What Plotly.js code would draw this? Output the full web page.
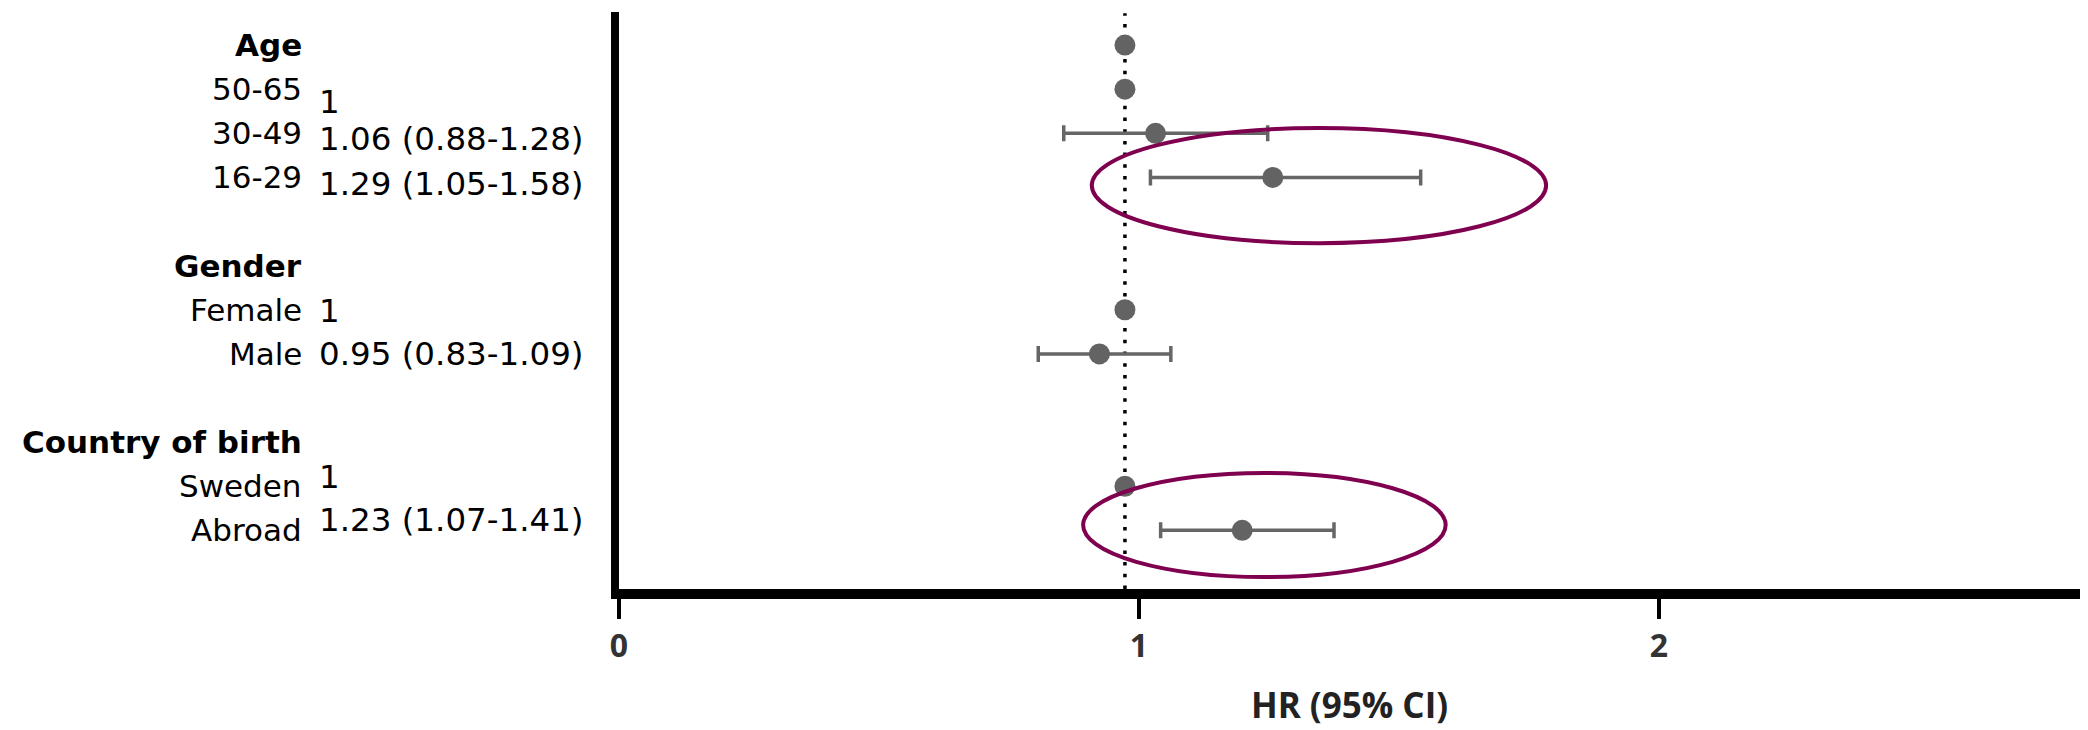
<!DOCTYPE html>
<html>
<head>
<meta charset="utf-8">
<script src="https://cdn.plot.ly/plotly-3.0.1.min.js"></script>
<style>html,body{margin:0;padding:0;background:#fff;}#chart{width:2088px;height:730px;}</style>
</head>
<body>
<div id="chart"></div>
<script>
// ---- data ----
const rowLabels = ['Age', '50-65', '30-49', '16-29', '', 'Gender', 'Female', 'Male', '', 'Country of birth', 'Sweden', 'Abroad'];
const headerRows = ['Age', 'Gender', 'Country of birth'];
const valueText = ['', '1', '1.06 (0.88-1.28)', '1.29 (1.05-1.58)', '', '', '1', '0.95 (0.83-1.09)', '', '', '1', '1.23 (1.07-1.41)'];
const pointLabels = ['Age', '50-65', '30-49', '16-29', 'Female', 'Male', 'Sweden', 'Abroad'];
const hr = [1, 1, 1.06, 1.29, 1, 0.95, 1, 1.23];
const ciLow = [1, 1, 0.88, 1.05, 1, 0.83, 1, 1.07];
const ciHigh = [1, 1, 1.28, 1.58, 1, 1.09, 1, 1.41];
const xTicks = [0, 1, 2];
const xTickText = ['0', '1', '2'];
const highlighted = ['16-29', 'Abroad'];

// ---- styling (not data) ----
const valueYShift = [0, -13, -6, -7, 0, 0, -1, 0, 0, 0, 9, 10];
const rowIndex = lbl => rowLabels.indexOf(lbl);

// empty trace so that the visible HR axis (x) gets drawn
const axisHolder = {type: 'scatter', mode: 'markers', x: [], y: [], xaxis: 'x', yaxis: 'y',
  hoverinfo: 'skip', showlegend: false};

const trace = {
  type: 'scatter',
  mode: 'markers',
  x: hr,
  y: pointLabels.map(rowIndex),
  xaxis: 'x2',
  yaxis: 'y',
  marker: {size: 21, color: '#636363'},
  error_x: {
    type: 'data', symmetric: false,
    array: ciHigh.map((h, i) => h - hr[i]),
    arrayminus: ciLow.map((l, i) => hr[i] - l),
    color: '#666666', thickness: 3.5, width: 8
  },
  hoverinfo: 'skip',
  showlegend: false
};

const annotations = [];
rowLabels.forEach((lbl, i) => {
  if (!lbl) return;
  const isHead = headerRows.includes(lbl);
  annotations.push({
    xref: 'paper', yref: 'y', x: -0.2155, y: i,
    xanchor: 'right', yanchor: 'middle', showarrow: false,
    text: lbl,
    font: {family: 'DejaVu Sans', size: isHead ? 31 : 31, color: '#000', weight: isHead ? 'bold' : 'normal'}
  });
  if (valueText[i]) {
    annotations.push({
      xref: 'paper', yref: 'y', x: -0.2065, y: i, yshift: valueYShift[i],
      xanchor: 'left', yanchor: 'middle', showarrow: false,
      text: valueText[i],
      font: {family: 'DejaVu Sans', size: 32.5, color: '#000'}
    });
  }
});

// highlight ellipses around selected rows (in data units)
const ellipseSpec = {
  '16-29': {x0: 0.935, x1: 1.826, dy0: -1.12, dy1: 1.49},
  'Abroad': {x0: 0.918, x1: 1.629, dy0: -1.30, dy1: 1.06}
};
const shapes = [
  {type: 'line', xref: 'x2', yref: 'paper', x0: 1, x1: 1, y0: 0, y1: 0.998,
   line: {color: '#000', width: 3.5, dash: '3.5px,8.2px'}, layer: 'below'}
];
highlighted.forEach(lbl => {
  const s = ellipseSpec[lbl], r = rowIndex(lbl);
  shapes.push({type: 'circle', xref: 'x2', yref: 'y', x0: s.x0, x1: s.x1, y0: r + s.dy0, y1: r + s.dy1,
    line: {color: '#800050', width: 4}, fillcolor: 'rgba(0,0,0,0)'});
});

const layout = {
  width: 2088, height: 730,
  margin: {l: 619, r: 8, t: 12, b: 141},
  paper_bgcolor: '#fff', plot_bgcolor: '#fff',
  showlegend: false,
  xaxis: {
    range: [0, 2.81],
    tickvals: xTicks, ticktext: xTickText,
    showgrid: false, zeroline: false,
    showline: true, linecolor: '#000', linewidth: 10,
    ticks: 'outside', ticklen: 20, tickwidth: 4, tickcolor: '#000',
    tickfont: {family: 'Open Sans', size: 32, color: '#333', weight: 'bold'},
    title: {text: 'HR (95% CI)', font: {family: 'Open Sans', size: 35, color: '#222', weight: 'bold'}, standoff: 32},
    fixedrange: true
  },
  xaxis2: {
    overlaying: 'x', range: [0.0078, 2.873], visible: false, fixedrange: true
  },
  yaxis: {
    range: [12.33, -0.75],
    showticklabels: false, ticks: '',
    showgrid: false, zeroline: false,
    showline: true, linecolor: '#000', linewidth: 8,
    fixedrange: true
  },
  annotations: annotations,
  shapes: shapes
};

Plotly.newPlot('chart', [axisHolder, trace], layout, {displayModeBar: false, staticPlot: true});
</script>
</body>
</html>
